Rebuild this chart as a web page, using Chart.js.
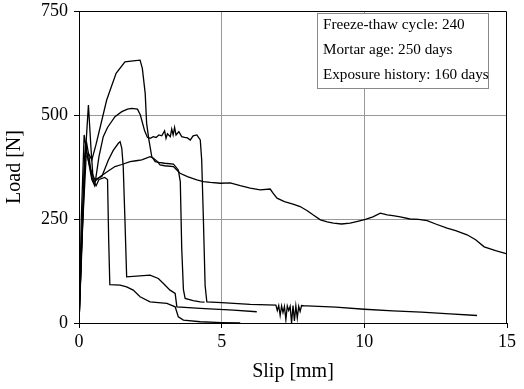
<!DOCTYPE html>
<html>
<head>
<meta charset="utf-8">
<script src="https://cdn.jsdelivr.net/npm/chart.js@4.4.1/dist/chart.umd.min.js"></script>
<style>
html,body{margin:0;padding:0;background:#fff;}
#wrap{width:524px;height:389px;position:relative;}
</style>
</head>
<body>
<div id="wrap"><canvas id="c"></canvas></div>
<script>
// ---- Data (slip in mm, load in N) ----
const slipA = [0,0.1,0.25,0.35,0.45,0.6,0.97,1.3,1.61,1.9,2.14,2.22,2.32,2.37,2.45,2.55,2.67,2.8,3.0,3.31,3.48,3.55,3.6,3.66,3.72,4.0,4.25,4.4];
const loadA = [0,200,400,405,392,430,536,600,628,630,632,612,552,480,440,400,388,386,384,382,368,340,180,80,59,54,51,50];

const slipB = [0,0.08,0.18,0.3,0.45,0.55,0.7,0.85,1.0,1.26,1.5,1.7,1.85,2.05,2.15,2.3,2.4,2.5,2.6,2.7,2.8,2.9,3.0,3.05,3.1,3.2,3.25,3.3,3.35,3.4,3.5,3.6,3.7,3.8,3.9,4.0,4.13,4.25,4.3,4.36,4.42,4.48,5.0,6.0,6.9,6.95,7.0,7.05,7.1,7.15,7.2,7.25,7.3,7.35,7.4,7.45,7.5,7.55,7.6,7.65,7.7,7.75,7.8,7.9,8.0,9.0,10.0,11.0,12.0,13.0,13.95];
const loadB = [0,250,452,400,345,330,400,448,470,496,508,514,516,514,500,462,446,444,448,446,452,450,462,444,455,448,466,452,470,452,460,448,446,445,440,450,452,440,392,248,90,51,49,45,43,30,42,18,41,25,40,8,41,30,40,0,42,5,41,12,40,28,42,41,41,38,33,29,26,22,18];

const slipC = [0,0.1,0.22,0.3,0.4,0.55,0.8,1.03,1.2,1.38,1.44,1.5,1.55,1.61,1.67,2.49,2.78,2.96,3.19,3.37,3.43,4.25,5.41,6.23];
const loadC = [0,200,420,400,370,345,352,392,415,432,436,420,376,248,111,115,107,95,79,71,39,35,31,27];

const slipD = [0,0.1,0.2,0.33,0.42,0.5,0.6,0.7,0.9,1.0,1.04,1.08,1.44,1.67,1.9,2.14,2.49,3.08,3.37,3.48,3.66,4.25,5.0,5.65];
const loadD = [0,180,380,524,420,340,330,345,350,345,200,92,91,87,79,63,51,47,39,15,7,3,1,0];

const slipE = [0,0.1,0.2,0.27,0.35,0.45,0.55,0.75,1.0,1.26,1.5,1.79,2.0,2.2,2.49,2.61,2.75,2.84,3.0,3.31,3.54,3.8,4.13,4.36,4.6,4.95,5.3,5.65,6.0,6.35,6.7,6.8,6.94,7.2,7.5,7.75,8.0,8.2,8.46,8.7,8.92,9.2,9.5,9.8,10.04,10.3,10.56,10.8,11.0,11.26,11.6,11.9,12.2,12.5,12.9,13.2,13.6,13.9,14.2,14.6,15.0];
const loadE = [0,210,400,432,400,350,340,352,364,376,381,388,390,392,400,396,388,380,378,376,360,352,344,340,338,336,337,330,324,320,322,312,300,292,286,280,270,260,248,243,240,238,240,245,249,255,264,260,258,255,250,249,246,238,228,222,212,200,183,174,166];

const xTicks = [0,5,10,15];
const yTicks = [0,250,500,750];
const infoLines = ['Freeze-thaw cycle: 240','Mortar age: 250 days','Exposure history: 160 days'];
const xTitle = 'Slip [mm]';
const yTitle = 'Load [N]';

// ---- Build ----
const FONT = '"Liberation Serif", "Times New Roman", serif';
function pts(xs, ys){ return xs.map((x,i)=>({x:x,y:ys[i]})); }
function ds(xs, ys){
  return {data:pts(xs,ys), showLine:true, borderColor:'#000', borderWidth:1.3, pointRadius:0, tension:0, fill:false};
}

const framePlugin = {
  id:'frame',
  afterDatasetsDraw(chart){
    const {ctx, chartArea:a} = chart;
    ctx.save();
    ctx.strokeStyle = '#000';
    ctx.lineWidth = 1;
    ctx.beginPath();
    ctx.moveTo(a.left, a.top+0.5); ctx.lineTo(a.right-0.5, a.top+0.5); ctx.lineTo(a.right-0.5, a.bottom);
    ctx.stroke();
    // info box
    const bx = 317.5, by = 13.5, bw = 171, bh = 75;
    ctx.fillStyle = '#fff';
    ctx.fillRect(bx, by, bw, bh);
    ctx.strokeStyle = '#888';
    ctx.strokeRect(bx, by, bw, bh);
    ctx.fillStyle = '#000';
    ctx.font = '15.2px ' + FONT;
    ctx.textBaseline = 'middle';
    ctx.textAlign = 'left';
    infoLines.forEach((t,i)=>ctx.fillText(t, 323, 25 + i*25));
    ctx.restore();
  }
};

const gridColor = (ctx, lo, hi) => (ctx.tick && (ctx.tick.value===lo || ctx.tick.value===hi)) ? 'rgba(0,0,0,0)' : '#999';

new Chart(document.getElementById('c'), {
  type:'scatter',
  data:{datasets:[ds(slipA,loadA), ds(slipB,loadB), ds(slipC,loadC), ds(slipD,loadD), ds(slipE,loadE)]},
  options:{
    responsive:true, maintainAspectRatio:false, animation:false,
    layout:{padding:{top:11,right:17,left:0,bottom:0}},
    plugins:{legend:{display:false}, tooltip:{enabled:false}},
    scales:{
      x:{type:'linear', min:0, max:15,
        afterBuildTicks: s => { s.ticks = xTicks.map(v=>({value:v})); },
        afterFit: s => { s.height = 66; s.paddingLeft = 0; s.paddingRight = 0; },
        ticks:{color:'#000', font:{family:FONT, size:18}, padding:3, maxRotation:0},
        grid:{color: c=>gridColor(c,0,15), tickColor:'#000', tickLength:5, lineWidth:1},
        border:{color:'#000', width:1},
        title:{display:true, text:xTitle, color:'#000', font:{family:FONT, size:20}, padding:{top:0,bottom:5}}
      },
      y:{type:'linear', min:0, max:750,
        afterBuildTicks: s => { s.ticks = yTicks.map(v=>({value:v})); },
        afterFit: s => { s.width = 79; s.paddingTop = 0; s.paddingBottom = 0; },
        ticks:{color:'#000', font:{family:FONT, size:18}, padding:6},
        grid:{color: c=>gridColor(c,0,750), tickColor:'#000', tickLength:5, lineWidth:1},
        border:{color:'#000', width:1},
        title:{display:true, text:yTitle, color:'#000', font:{family:FONT, size:20}, padding:{top:3,bottom:0}}
      }
    }
  },
  plugins:[framePlugin]
});
</script>
</body>
</html>
